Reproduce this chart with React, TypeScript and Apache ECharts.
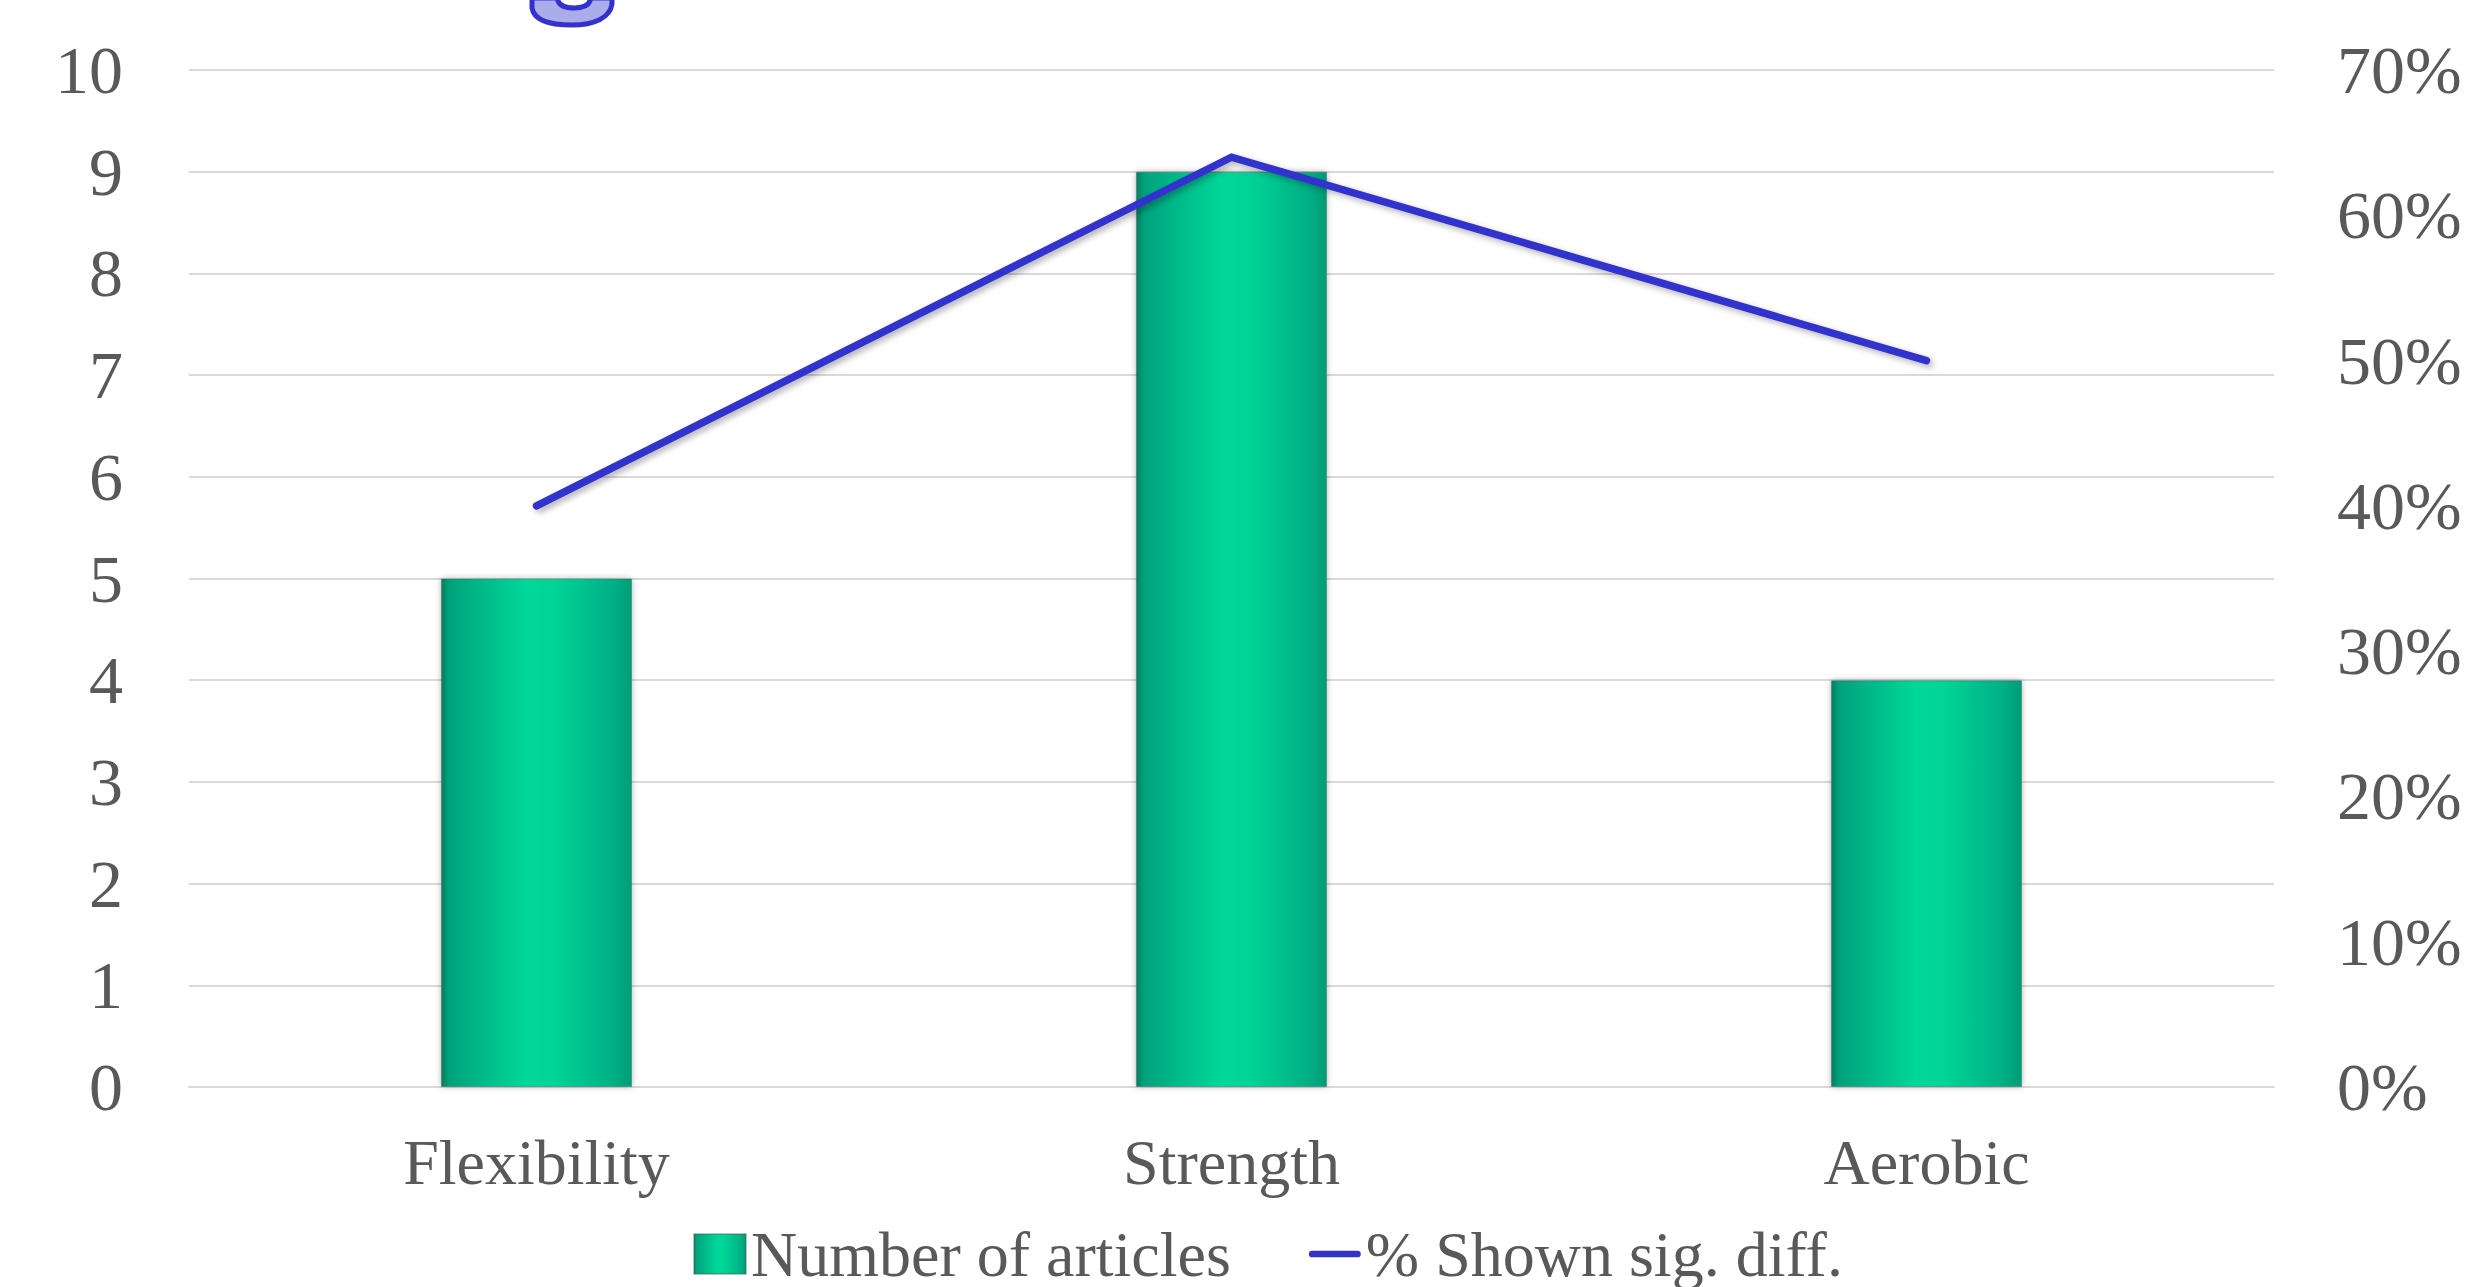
import React, { useEffect, useRef } from "react";
import * as echarts from "echarts";

const categories = ["Flexibility", "Strength", "Aerobic"];
const articleCounts = [5, 9, 4];
const sigDiffPercent = [40, 64, 50];
const leftTicks = { min: 0, max: 10, interval: 1 };
const rightTicks = { min: 0, max: 70, interval: 10 };
const seriesNames = ["Number of articles", "% Shown sig. diff."];

const FONT = "'Liberation Serif', 'Times New Roman', serif";
const LABEL = "#595959";

export default function App() {
  const ref = useRef<HTMLDivElement>(null);
  useEffect(() => {
    if (!ref.current) return;
    try {
      echarts.graphic.registerShape(
        "gtail",
        echarts.graphic.extendPath(
          "M0,0 L0,10 C2,22 18,27 40,27 C62,27 78,20 80,6 L80,0 L59,0 L58,3 C56,8 50,10 42,10 C34,10 28,8 26,3 L26,0 Z",
          {}
        )
      );
    } catch (e) {}
    const chart = echarts.init(ref.current, undefined, { renderer: "svg" });
    const barGrad = new echarts.graphic.LinearGradient(0, 0, 1, 0, [
      { offset: 0, color: "#007f5f" },
      { offset: 0.04, color: "#00a27c" },
      { offset: 0.45, color: "#00d89a" },
      { offset: 0.6, color: "#00d396" },
      { offset: 0.9, color: "#00b086" },
      { offset: 1, color: "#009c76" },
    ]);
    chart.setOption({
      animation: false,
      backgroundColor: "#ffffff",
      grid: { left: 189, right: 197, top: 70, bottom: 200 },
      legend: {
        left: 688,
        top: 1217,
        itemWidth: 52,
        itemHeight: 40,
        itemGap: 78,
        textStyle: { fontFamily: FONT, fontSize: 64, color: LABEL },
        data: [
          { name: seriesNames[0], icon: "rect" },
          {
            name: seriesNames[1],
            icon: "path://M3.5,0 L50.5,0 A3.5,3.5 0 0 1 50.5,7 L3.5,7 A3.5,3.5 0 0 1 3.5,0 Z",
            itemStyle: { color: "#3333cc" },
          },
        ],
      },
      xAxis: {
        type: "category",
        data: categories,
        axisLine: { show: true, lineStyle: { color: "#d9d9d9", width: 2 } },
        axisTick: { show: false },
        axisLabel: { fontFamily: FONT, fontSize: 64, color: LABEL, margin: 43 },
      },
      yAxis: [
        {
          type: "value",
          min: leftTicks.min,
          max: leftTicks.max,
          interval: leftTicks.interval,
          axisLine: { show: false },
          axisTick: { show: false },
          splitLine: { lineStyle: { color: "#d9d9d9", width: 2 } },
          axisLabel: { fontFamily: FONT, fontSize: 68, color: LABEL, margin: 66 },
        },
        {
          type: "value",
          min: rightTicks.min,
          max: rightTicks.max,
          interval: rightTicks.interval,
          axisLine: { show: false },
          axisTick: { show: false },
          splitLine: { show: false },
          axisLabel: {
            fontFamily: FONT,
            fontSize: 68,
            color: LABEL,
            margin: 63,
            formatter: "{value}%",
          },
        },
      ],
      series: [
        {
          name: seriesNames[0],
          type: "bar",
          data: articleCounts,
          barWidth: "27.5%",
          yAxisIndex: 0,
          itemStyle: {
            color: barGrad,
            borderColor: "rgba(60,90,80,0.35)",
            borderWidth: 1,
            shadowColor: "rgba(0,0,0,0.3)",
            shadowBlur: 6,
          },
        },
        {
          name: seriesNames[1],
          type: "line",
          data: sigDiffPercent,
          yAxisIndex: 1,
          symbol: "none",
          color: "#3333cc",
          lineStyle: {
            color: "#3333cc",
            width: 7.5,
            cap: "round",
            join: "miter",
            shadowColor: "rgba(0,0,0,0.3)",
            shadowBlur: 6,
            shadowOffsetX: 3,
            shadowOffsetY: 3,
          },
        },
      ],
      graphic: [
        {
          type: "gtail",
          x: 532,
          y: -2,
          style: { fill: "#aaade9", stroke: "#3333cc", lineWidth: 5 },
        },
      ],
    });
    return () => chart.dispose();
  }, []);
  return (
    <div
      ref={ref}
      style={{ position: "fixed", left: 0, top: 0, width: 2471, height: 1287 }}
    />
  );
}
